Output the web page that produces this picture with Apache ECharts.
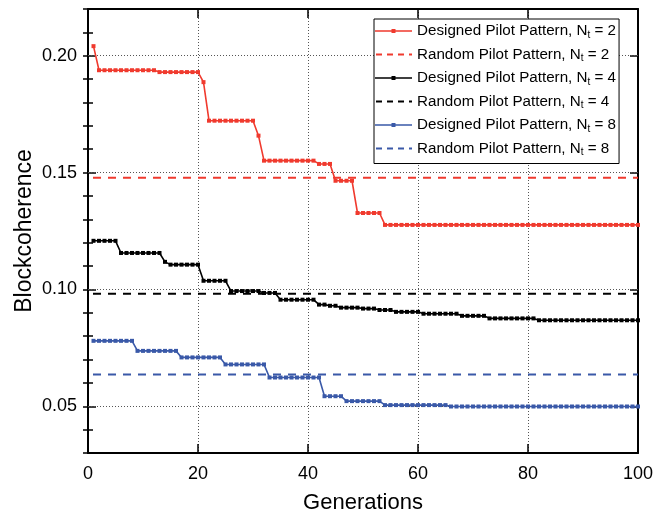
<!DOCTYPE html>
<html>
<head>
<meta charset="utf-8">
<script src="https://cdn.jsdelivr.net/npm/echarts@6/dist/echarts.min.js"></script>
<style>html,body{margin:0;padding:0;background:#fff}#c{width:662px;height:516px}</style>
</head>
<body>
<div id="c"></div>
<script>
const generations = [1,2,3,4,5,6,7,8,9,10,11,12,13,14,15,16,17,18,19,20,21,22,23,24,25,26,27,28,29,30,31,32,33,34,35,36,37,38,39,40,41,42,43,44,45,46,47,48,49,50,51,52,53,54,55,56,57,58,59,60,61,62,63,64,65,66,67,68,69,70,71,72,73,74,75,76,77,78,79,80,81,82,83,84,85,86,87,88,89,90,91,92,93,94,95,96,97,98,99,100];
const designedNt2 = [0.2041,
 0.1938,0.1938,0.1938,0.1938,0.1938,0.1938,0.1938,0.1938,0.1938,0.1938,0.1938,
 0.1930,0.1930,0.1930,0.1930,0.1930,0.1930,0.1930,0.1930,
 0.1887,
 0.1722,0.1722,0.1722,0.1722,0.1722,0.1722,0.1722,0.1722,0.1722,
 0.1658,
 0.1551,0.1551,0.1551,0.1551,0.1551,0.1551,0.1551,0.1551,0.1551,0.1551,
 0.1537,0.1537,0.1537,
 0.1465,0.1465,0.1465,0.1465,
 0.1327,0.1327,0.1327,0.1327,0.1327,
 0.1276,0.1276,0.1276,0.1276,0.1276,0.1276,0.1276,0.1276,0.1276,0.1276,
 0.1276,0.1276,0.1276,0.1276,0.1276,0.1276,0.1276,0.1276,0.1276,0.1276,
 0.1276,0.1276,0.1276,0.1276,0.1276,0.1276,0.1276,0.1276,0.1276,0.1276,
 0.1276,0.1276,0.1276,0.1276,0.1276,0.1276,0.1276,0.1276,0.1276,0.1276,
 0.1276,0.1276,0.1276,0.1276,0.1276,0.1276,0.1276];
const designedNt4 = [
 0.1208,0.1208,0.1208,0.1208,0.1208,
 0.1156,0.1156,0.1156,0.1156,0.1156,0.1156,0.1156,0.1156,
 0.1118,
 0.1106,0.1106,0.1106,0.1106,0.1106,0.1106,
 0.1037,0.1037,0.1037,0.1037,0.1037,
 0.0993,0.0993,0.0993,0.0993,0.0993,0.0993,
 0.0985,0.0985,0.0985,
 0.0956,0.0956,0.0956,0.0956,0.0956,0.0956,0.0956,
 0.0935,0.0935,
 0.0930,0.0930,
 0.0922,0.0922,0.0922,0.0922,
 0.0918,0.0918,0.0918,
 0.0912,0.0912,0.0912,
 0.0904,0.0904,0.0904,0.0904,0.0904,
 0.0896,0.0896,0.0896,0.0896,0.0896,0.0896,0.0896,
 0.0887,0.0887,0.0887,0.0887,0.0887,
 0.0876,0.0876,0.0876,0.0876,0.0876,0.0876,0.0876,0.0876,0.0876,
 0.0868,0.0868,0.0868,0.0868,0.0868,0.0868,0.0868,0.0868,0.0868,0.0868,
 0.0868,0.0868,0.0868,0.0868,0.0868,0.0868,0.0868,0.0868,0.0868];
const designedNt8 = [
 0.0780,0.0780,0.0780,0.0780,0.0780,0.0780,0.0780,0.0780,
 0.0737,0.0737,0.0737,0.0737,0.0737,0.0737,0.0737,0.0737,
 0.0709,0.0709,0.0709,0.0709,0.0709,0.0709,0.0709,0.0709,
 0.0679,0.0679,0.0679,0.0679,0.0679,0.0679,0.0679,0.0679,
 0.0623,0.0623,0.0623,0.0623,0.0623,0.0623,0.0623,0.0623,0.0623,0.0623,
 0.0543,0.0543,0.0543,0.0543,
 0.0522,0.0522,0.0522,0.0522,0.0522,0.0522,0.0522,
 0.0505,0.0505,0.0505,0.0505,0.0505,0.0505,0.0505,0.0505,0.0505,0.0505,0.0505,0.0505,
 0.0499,0.0499,0.0499,0.0499,0.0499,0.0499,0.0499,0.0499,0.0499,0.0499,
 0.0499,0.0499,0.0499,0.0499,0.0499,0.0499,0.0499,0.0499,0.0499,0.0499,
 0.0499,0.0499,0.0499,0.0499,0.0499,0.0499,0.0499,0.0499,0.0499,0.0499,
 0.0499,0.0499,0.0499,0.0499,0.0499];
const randomNt2 = 0.1478;
const randomNt4 = 0.0982;
const randomNt8 = 0.0636;
const randomRange = [0, 100];
const yMajorTicks = [0.05, 0.10, 0.15, 0.20];
const seriesNames = [
  'Designed Pilot Pattern, N{s|t} = 2', 'Random Pilot Pattern, N{s|t} = 2',
  'Designed Pilot Pattern, N{s|t} = 4', 'Random Pilot Pattern, N{s|t} = 4',
  'Designed Pilot Pattern, N{s|t} = 8', 'Random Pilot Pattern, N{s|t} = 8'
];
const RED = '#F03A2E', BLACK = '#000000', BLUE = '#3A59A8';
const FONT = 'Liberation Sans, Arial, sans-serif';

// legend icons (37 x 14 box): solid line with small square / dashed line
const ICON_SOLID = 'path://M0,0H0.01V0.01H0Z M36.99,13.99H37V14H36.99Z M0,6.2H37V7.8H0Z M16.5,5H20.5V9H16.5Z';
const ICON_DASH = 'path://M0,0H0.01V0.01H0Z M36.99,13.99H37V14H36.99Z M1,6H7V8H1Z M12,6H18V8H12Z M23,6H29V8H23Z M34,6H37V8H34Z';

function pairs(ys){ return ys.map((v,i)=>[generations[i], v]); }
function flat(v){ return randomRange.map(x=>[x, v]); }
function designed(name, ys, color){
  return {name, type:'line', data:pairs(ys), xAxisIndex:0, yAxisIndex:0,
    symbol:'rect', symbolSize:4, showSymbol:true,
    lineStyle:{color, width:1.6}, itemStyle:{color}, animation:false, z:3};
}
function randomLine(name, v, color){
  return {name, type:'line', data:flat(v), xAxisIndex:0, yAxisIndex:0,
    symbol:'none', showSymbol:false,
    lineStyle:{color, width:2, type:[8,7], dashOffset:10}, itemStyle:{color}, animation:false, z:2};
}
const axisLineStyle = {color:'#000', width:2};
const chart = echarts.init(document.getElementById('c'), null, {renderer:'canvas'});
chart.setOption({
  animation:false,
  backgroundColor:'#fff',
  grid:{left:88, right:24, top:9, bottom:63, containLabel:false, outerBoundsMode:'none'},
  xAxis:[
    {type:'value', min:0, max:100, interval:20, position:'bottom',
     axisLine:{show:true, onZero:false, lineStyle:axisLineStyle},
     axisTick:{show:true, inside:true, length:9, lineStyle:{color:'#000', width:1.5}},
     axisLabel:{color:'#000', fontSize:18, fontFamily:FONT, margin:12},
     splitLine:{show:true, lineStyle:{color:'#555', width:1, type:[1,2]}},
     name:'Generations', nameLocation:'middle', nameGap:39,
     nameTextStyle:{color:'#000', fontSize:22, fontFamily:FONT}},
    {type:'value', min:0, max:100, interval:20, position:'top',
     axisLine:{show:true, onZero:false, lineStyle:axisLineStyle},
     axisTick:{show:true, inside:true, length:9, lineStyle:{color:'#000', width:1.5}},
     axisLabel:{show:false}, splitLine:{show:false}}
  ],
  yAxis:[
    {type:'value', min:0.03, max:0.22, position:'left',
     axisLine:{show:true, onZero:false, lineStyle:axisLineStyle},
     axisTick:{show:true, inside:true, length:8, customValues:yMajorTicks, lineStyle:{color:'#000', width:1.5}},
     axisLabel:{color:'#000', fontSize:18, fontFamily:FONT, margin:11, customValues:yMajorTicks,
       formatter:v=>v.toFixed(2)},
     splitLine:{show:false},
     name:'Blockcoherence', nameLocation:'middle', nameGap:52, nameMoveOverlap:false,
     nameTextStyle:{color:'#000', fontSize:23, fontFamily:FONT}},
    {type:'value', min:0.03, max:0.22, interval:0.01, position:'left',
     axisLine:{show:false}, axisTick:{show:true, inside:true, length:5, lineStyle:{color:'#000', width:1.5}},
     axisLabel:{show:false}, splitLine:{show:false}},
    {type:'value', min:0.03, max:0.22, position:'right',
     axisLine:{show:true, onZero:false, lineStyle:axisLineStyle},
     axisTick:{show:true, inside:true, length:8, customValues:yMajorTicks, lineStyle:{color:'#000', width:1.5}},
     axisLabel:{show:false}, splitLine:{show:false}},
    {type:'value', min:0.03, max:0.22, interval:0.01, position:'right',
     axisLine:{show:false}, axisTick:{show:true, inside:true, length:5, lineStyle:{color:'#000', width:1.5}},
     axisLabel:{show:false}, splitLine:{show:false}}
  ],
  legend:{
    orient:'vertical', left:374, top:19, z:20,
    backgroundColor:'#fff', borderColor:'#000', borderWidth:1, borderRadius:0,
    padding:[3,3,6,1], itemGap:5.5, itemWidth:37, itemHeight:14,
    textStyle:{color:'#000', fontSize:15.2, fontFamily:FONT, lineHeight:18,
      rich:{s:{fontSize:10, fontFamily:FONT, color:'#000', lineHeight:18, verticalAlign:'bottom', padding:[4,0,0,0]}}},
    data:seriesNames.map((n,i)=>({name:n, icon: i%2===0 ? ICON_SOLID : ICON_DASH}))
  },
  series:[
    designed(seriesNames[0], designedNt2, RED),
    randomLine(seriesNames[1], randomNt2, RED),
    designed(seriesNames[2], designedNt4, BLACK),
    randomLine(seriesNames[3], randomNt4, BLACK),
    designed(seriesNames[4], designedNt8, BLUE),
    randomLine(seriesNames[5], randomNt8, BLUE),
    {type:'line', data:[], xAxisIndex:0, yAxisIndex:0, silent:true, z:1,
     markLine:{silent:true, symbol:['none','none'], label:{show:false}, z:1,
       lineStyle:{color:'#555', width:1, type:[1,2]},
       data:yMajorTicks.map(v=>({yAxis:v}))}}
  ]
});
</script>
</body>
</html>
